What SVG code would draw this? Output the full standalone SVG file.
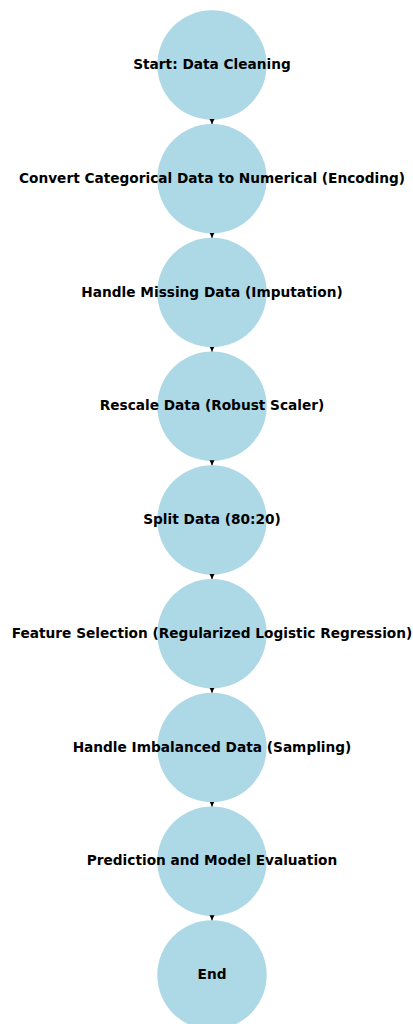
<svg xmlns="http://www.w3.org/2000/svg" width="413" height="1024" viewBox="0 0 413 1024">
<style>
.n{fill:#add8e6}
.t{font-family:"DejaVu Sans",sans-serif;font-weight:bold;font-size:13.7px;fill:#000;text-anchor:middle;dominant-baseline:central}
.e{stroke:#000;stroke-width:1;fill:none}
</style>
<defs>
<marker id="ah" markerWidth="6" markerHeight="6" refX="5" refY="3" orient="auto" markerUnits="userSpaceOnUse">
<path d="M0,0.5 L5,3 L0,5.5 Z" fill="#000"/>
</marker>
</defs>
<g id="n1"><circle class="n" cx="212" cy="65" r="54.7"/><text class="t" x="212" y="64">Start: Data Cleaning</text></g>
<g id="n2"><circle class="n" cx="212" cy="178.75" r="54.7"/><text class="t" x="212" y="177.75">Convert Categorical Data to Numerical (Encoding)</text></g>
<g id="n3"><circle class="n" cx="212" cy="292.5" r="54.7"/><text class="t" x="212" y="291.5">Handle Missing Data (Imputation)</text></g>
<g id="n4"><circle class="n" cx="212" cy="406.25" r="54.7"/><text class="t" x="212" y="405.25">Rescale Data (Robust Scaler)</text></g>
<g id="n5"><circle class="n" cx="212" cy="520" r="54.7"/><text class="t" x="212" y="519">Split Data (80:20)</text></g>
<g id="n6"><circle class="n" cx="212" cy="633.75" r="54.7"/><text class="t" x="212" y="632.75">Feature Selection (Regularized Logistic Regression)</text></g>
<g id="n7"><circle class="n" cx="212" cy="747.5" r="54.7"/><text class="t" x="212" y="746.5">Handle Imbalanced Data (Sampling)</text></g>
<g id="n8"><circle class="n" cx="212" cy="861.25" r="54.7"/><text class="t" x="212" y="860.25">Prediction and Model Evaluation</text></g>
<g id="n9"><circle class="n" cx="212" cy="975" r="54.7"/><text class="t" x="212" y="974">End</text></g>
<g id="edges">
<line class="e" x1="212" y1="119.7" x2="212" y2="124" marker-end="url(#ah)"/>
<line class="e" x1="212" y1="233.45" x2="212" y2="237.75" marker-end="url(#ah)"/>
<line class="e" x1="212" y1="347.2" x2="212" y2="351.5" marker-end="url(#ah)"/>
<line class="e" x1="212" y1="460.95" x2="212" y2="465.25" marker-end="url(#ah)"/>
<line class="e" x1="212" y1="574.7" x2="212" y2="579" marker-end="url(#ah)"/>
<line class="e" x1="212" y1="688.45" x2="212" y2="692.75" marker-end="url(#ah)"/>
<line class="e" x1="212" y1="802.2" x2="212" y2="806.5" marker-end="url(#ah)"/>
<line class="e" x1="212" y1="915.95" x2="212" y2="920.25" marker-end="url(#ah)"/>
</g>
</svg>
